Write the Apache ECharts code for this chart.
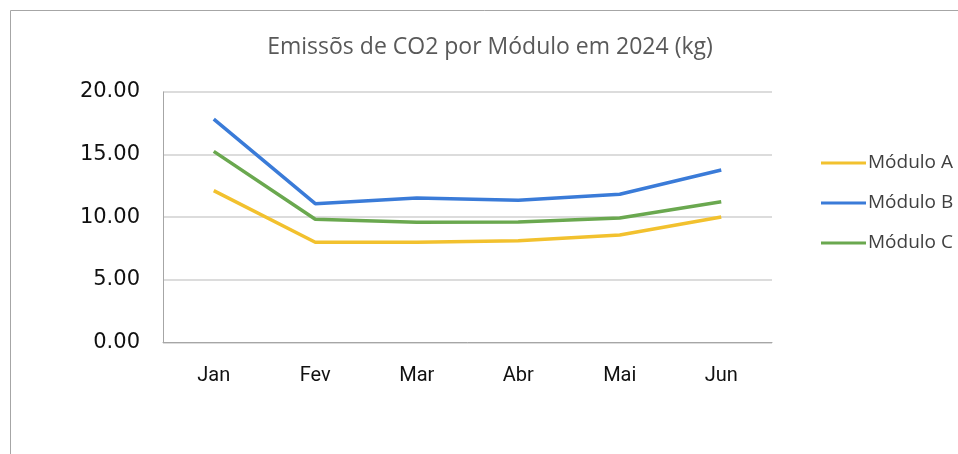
<!DOCTYPE html>
<html>
<head>
<meta charset="utf-8">
<script src="https://cdn.jsdelivr.net/npm/echarts@6/dist/echarts.min.js"></script>
<style>
html,body{margin:0;padding:0;background:#fff;}
#chart{width:958px;height:454px;}
</style>
</head>
<body>
<div id="chart"></div>
<script>
const categories = ['Jan', 'Fev', 'Mar', 'Abr', 'Mai', 'Jun'];
const moduloA = [12.12, 8.00, 8.00, 8.12, 8.58, 10.02];
const moduloB = [17.84, 11.08, 11.53, 11.35, 11.83, 13.77];
const moduloC = [15.26, 9.83, 9.59, 9.62, 9.94, 11.24];
const seriesNames = ['Módulo A', 'Módulo B', 'Módulo C'];
const titleText = 'Emissõs de CO2 por Módulo em 2024 (kg)';

const chart = echarts.init(document.getElementById('chart'), null, {renderer: 'canvas'});
const colors = ['#F2C12E', '#3A7BD8', '#6AA84F'];
const values = [moduloA, moduloB, moduloC];

chart.setOption({
  animation: false,
  backgroundColor: '#fff',
  title: {
    text: titleText,
    left: 485, top: 31, textAlign: 'center',
    textStyle: {fontFamily: 'Open Sans', fontSize: 23, fontWeight: 'normal', color: '#595959'}
  },
  graphic: [{
    type: 'rect', shape: {x: 10.5, y: 10.5, width: 960, height: 460},
    style: {fill: 'none', stroke: '#a6a6a6', lineWidth: 1}, silent: true
  }],
  legend: {
    orient: 'vertical', left: 816, top: 147, itemGap: 18,
    itemWidth: 45, itemHeight: 3, icon: 'rect',
    textStyle: {fontFamily: 'Open Sans', fontSize: 19, color: '#404040', padding: [0,0,0,-3], lineHeight: 22},
    data: seriesNames
  },
  grid: {left: 163, right: 186, top: 92, bottom: 111.6},
  xAxis: {
    type: 'category', data: categories, boundaryGap: true,
    axisLine: {lineStyle: {color: '#a6a6a6', width: 1}},
    axisTick: {show: false},
    axisLabel: {fontFamily: 'Roboto', fontSize: 20, color: '#111', margin: 24}
  },
  yAxis: {
    type: 'value', min: 0, max: 20, interval: 5,
    axisLine: {show: true, lineStyle: {color: '#a6a6a6', width: 1}},
    axisTick: {show: false},
    splitLine: {lineStyle: {color: '#d0d0d0', width: 1.5}},
    axisLabel: {fontFamily: 'DejaVu Sans', fontSize: 21, color: '#111', margin: 23,
      formatter: v => v.toFixed(2)}
  },
  series: seriesNames.map((n, i) => ({
    name: n, type: 'line', data: values[i], symbol: 'none',
    lineStyle: {color: colors[i], width: 3.5}, itemStyle: {color: colors[i]}
  }))
});
</script>
</body>
</html>
